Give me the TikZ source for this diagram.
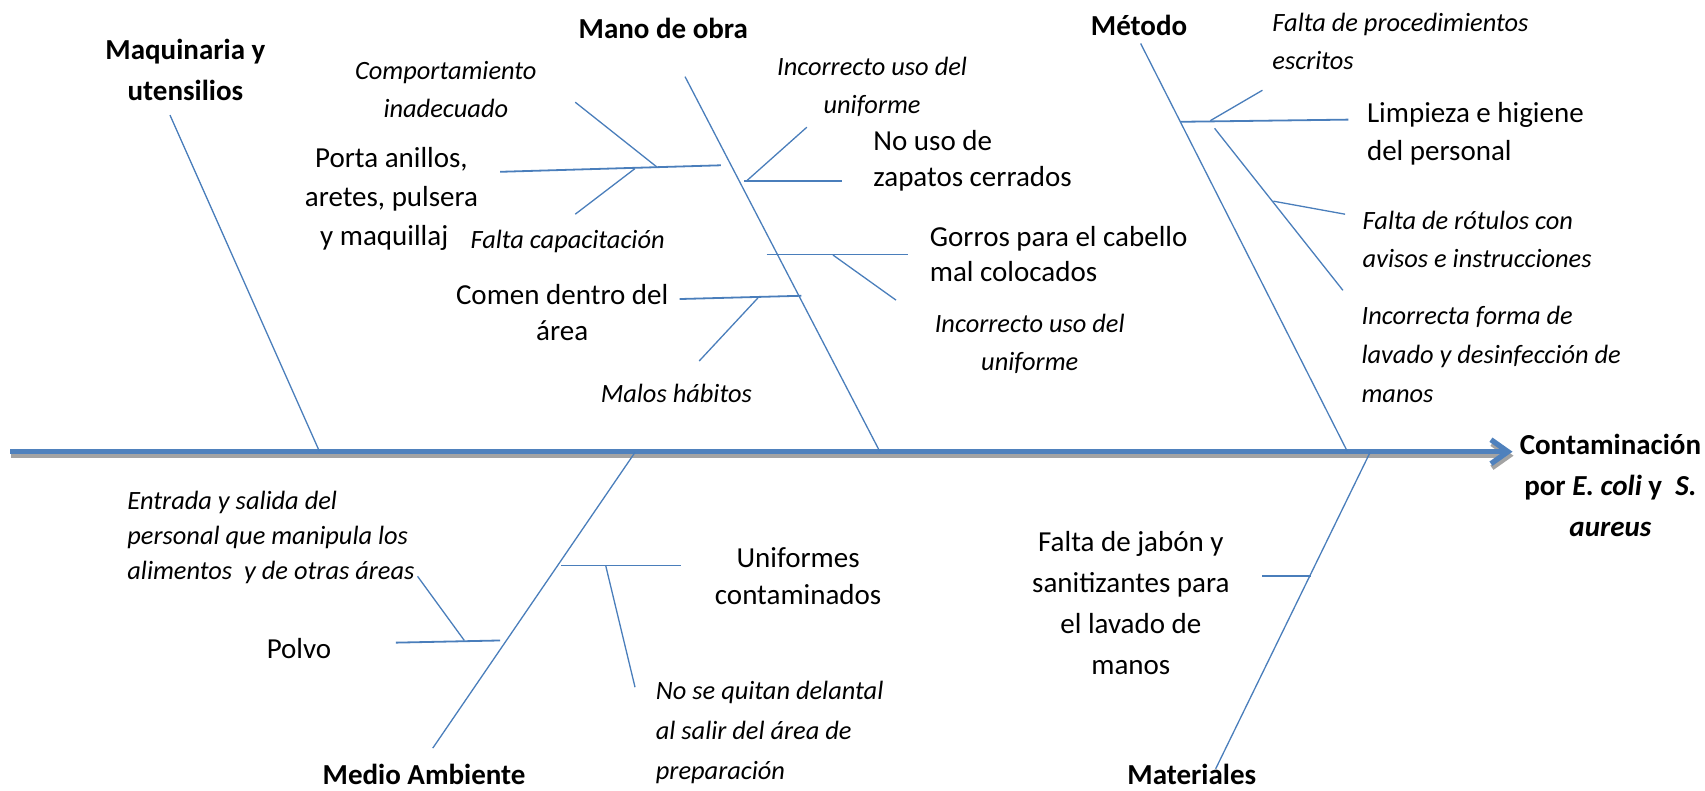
\documentclass[tikz,border=0pt]{standalone}
\usepackage{fontspec}
\setmainfont{Carlito}
\usetikzlibrary{arrows.meta}
\definecolor{bonecol}{HTML}{4A7EBB}
\definecolor{spinecol}{HTML}{4F81BD}
\definecolor{shadowcol}{HTML}{A3A3A3}
\begin{document}
\begin{tikzpicture}[x=1.0874pt,y=-1.0874pt,
  bonel/.style={draw=bonecol, line width=1.3pt},
  ribl/.style={draw=bonecol, line width=1.8pt},
  txtup/.style={font=\fontsize{29}{#1}\selectfont, inner sep=0pt, align=center},
  txtup/.default=36,
  txtit/.style={font=\fontsize{26.4}{#1}\selectfont\itshape, inner sep=0pt, align=center},
  txtit/.default=38,
  txtbf/.style={font=\fontsize{29}{#1}\selectfont\bfseries, inner sep=0pt, align=center},
  txtbf/.default=41,
  lft/.style={anchor=west, align=left}
]
\useasboundingbox (0,0) rectangle (1568,727);

% ---------- spine ----------
\coordinate (sL) at (9.5,415.4);
\coordinate (sR) at (1391,415.4);
\draw[shadowcol, line width=5.3pt, -{Straight Barb[length=17pt,width=24pt]}]
  ([xshift=1pt,yshift=-4pt]sL) -- ([xshift=1pt,yshift=-4pt]sR);
\draw[spinecol, line width=5.3pt, -{Straight Barb[length=17pt,width=24pt]}] (sL) -- (sR);

% ---------- Maquinaria y utensilios ----------
\coordinate (mqT) at (156.3,105.8);
\coordinate (mqB) at (293.7,415);
\draw[bonel] (mqT) -- (mqB);

% ---------- Mano de obra ----------
\coordinate (moT) at (630,70.5);
\coordinate (moB) at (809,415);
\draw[bonel] (moT) -- (moB);
\coordinate (a1) at (460,158);   \coordinate (a2) at (663,152);
\draw[ribl] (a1) -- (a2);
\coordinate (b1) at (529,94);    \coordinate (b2) at (604,153.5);
\draw[bonel] (b1) -- (b2);
\coordinate (c1) at (584,155);   \coordinate (c2) at (529,197);
\draw[bonel] (c1) -- (c2);
\coordinate (d1) at (684,166.5); \coordinate (d2) at (774,166.5);
\draw[ribl] (d1) -- (d2);
\coordinate (e1) at (687,166);   \coordinate (e2) at (742,117);
\draw[bonel] (e1) -- (e2);
\coordinate (f1) at (705,234);   \coordinate (f2) at (835,234);
\draw[ribl] (f1) -- (f2);
\coordinate (g1) at (766,234.5); \coordinate (g2) at (824,276);
\draw[bonel] (g1) -- (g2);
\coordinate (h1) at (625,275);   \coordinate (h2) at (737,272);
\draw[ribl] (h1) -- (h2);
\coordinate (i1) at (697,274);   \coordinate (i2) at (643,332);
\draw[bonel] (i1) -- (i2);

% ---------- Metodo ----------
\coordinate (meT) at (1049,40);
\coordinate (meB) at (1239,415);
\draw[bonel] (meT) -- (meB);
\coordinate (j1) at (1086,112);  \coordinate (j2) at (1240,110);
\draw[ribl] (j1) -- (j2);
\coordinate (k1) at (1113,111);  \coordinate (k2) at (1161,83);
\draw[bonel] (k1) -- (k2);
\coordinate (l1) at (1117,118);  \coordinate (l2) at (1235,267);
\draw[bonel] (l1) -- (l2);
\coordinate (m1) at (1171,185);  \coordinate (m2) at (1237,197);
\draw[bonel] (m1) -- (m2);

% ---------- Medio Ambiente ----------
\coordinate (maT) at (584,416);
\coordinate (maB) at (398,688);
\draw[bonel] (maT) -- (maB);
\coordinate (n1) at (516,520);   \coordinate (n2) at (626,520);
\draw[ribl] (n1) -- (n2);
\coordinate (o1) at (557,520);   \coordinate (o2) at (584,632);
\draw[bonel] (o1) -- (o2);
\coordinate (p1) at (364,591);   \coordinate (p2) at (460,589);
\draw[ribl] (p1) -- (p2);
\coordinate (q1) at (427,589);   \coordinate (q2) at (384,530);
\draw[bonel] (q1) -- (q2);

% ---------- Materiales ----------
\coordinate (mtT) at (1260,416);
\coordinate (mtB) at (1118,707);
\draw[bonel] (mtT) -- (mtB);
\coordinate (r1) at (1160.6,530); \coordinate (r2) at (1205.5,530);
\draw[ribl] (r1) -- (r2);

% ---------- category labels ----------
\node[txtbf] (lmq) at (170.5,64) {Maquinaria y\\utensilios};
\node[txtbf] (lmo) at (610,26) {Mano de obra};
\node[txtbf] (lme) at (1047.5,23) {Método};
\node[txtbf, anchor=base] (lma) at (390,721) {Medio Ambiente};
\node[txtbf, anchor=base] (lmt) at (1096,721) {Materiales};

% ---------- effect ----------
\node[txtbf] (eff) at (1481,446) {Contaminación\\por \textit{E. coli} y \ \textit{S.}\\\textit{aureus}};

% ---------- causes: Mano de obra ----------
\node[txtit] (t1) at (410,82) {Comportamiento\\inadecuado};
\begin{scope}
  \clip (240,110) -- (460,110) -- (460,201) -- (412,201) -- (412,245) -- (240,245) -- cycle;
  \node[txtup=38.6] (t2) at (360,183) {Porta anillos,\\aretes, pulsera\\y maquillaje};
\end{scope}
\node[txtit] (t3) at (522,222) {Falta capacitación};
\node[txtup] (t4) at (517,287) {Comen dentro del\\área};
\node[txtit] (t5) at (622,362) {Malos hábitos};
\node[txtit] (t6) at (802,80) {Incorrecto uso del\\uniforme};
\node[txtup, lft] (t7) at (803,148) {No uso de\\zapatos cerrados};
\node[txtup=35, lft] (t8) at (855,234) {Gorros para el cabello\\mal colocados};
\node[txtit] (t9) at (947,316) {Incorrecto uso del\\uniforme};

% ---------- causes: Metodo ----------
\node[txtit, lft] (t10) at (1170,38) {Falta de procedimientos\\escritos};
\node[txtup=38, lft] (t11) at (1257,123) {Limpieza e higiene\\del personal};
\node[txtit, lft] (t12) at (1253,220) {Falta de rótulos con\\avisos e instrucciones};
\node[txtit=39, lft] (t13) at (1252,326) {Incorrecta forma de\\lavado y desinfección de\\manos};

% ---------- causes: Medio Ambiente ----------
\node[txtit=35, lft] (t14) at (117,494) {Entrada y salida del\\personal que manipula los\\alimentos \ y de otras áreas};
\node[txtup] (t15) at (275,596) {Polvo};
\node[txtup=37] (t16) at (734,530) {Uniformes\\contaminados};
\node[txtit=40, lft] (t17) at (603,674) {No se quitan delantal\\al salir del área de\\preparación};

% ---------- causes: Materiales ----------
\node[txtup=41] (t18) at (1040,555) {Falta de jabón y\\sanitizantes para\\el lavado de\\manos};
\end{tikzpicture}
\end{document}
